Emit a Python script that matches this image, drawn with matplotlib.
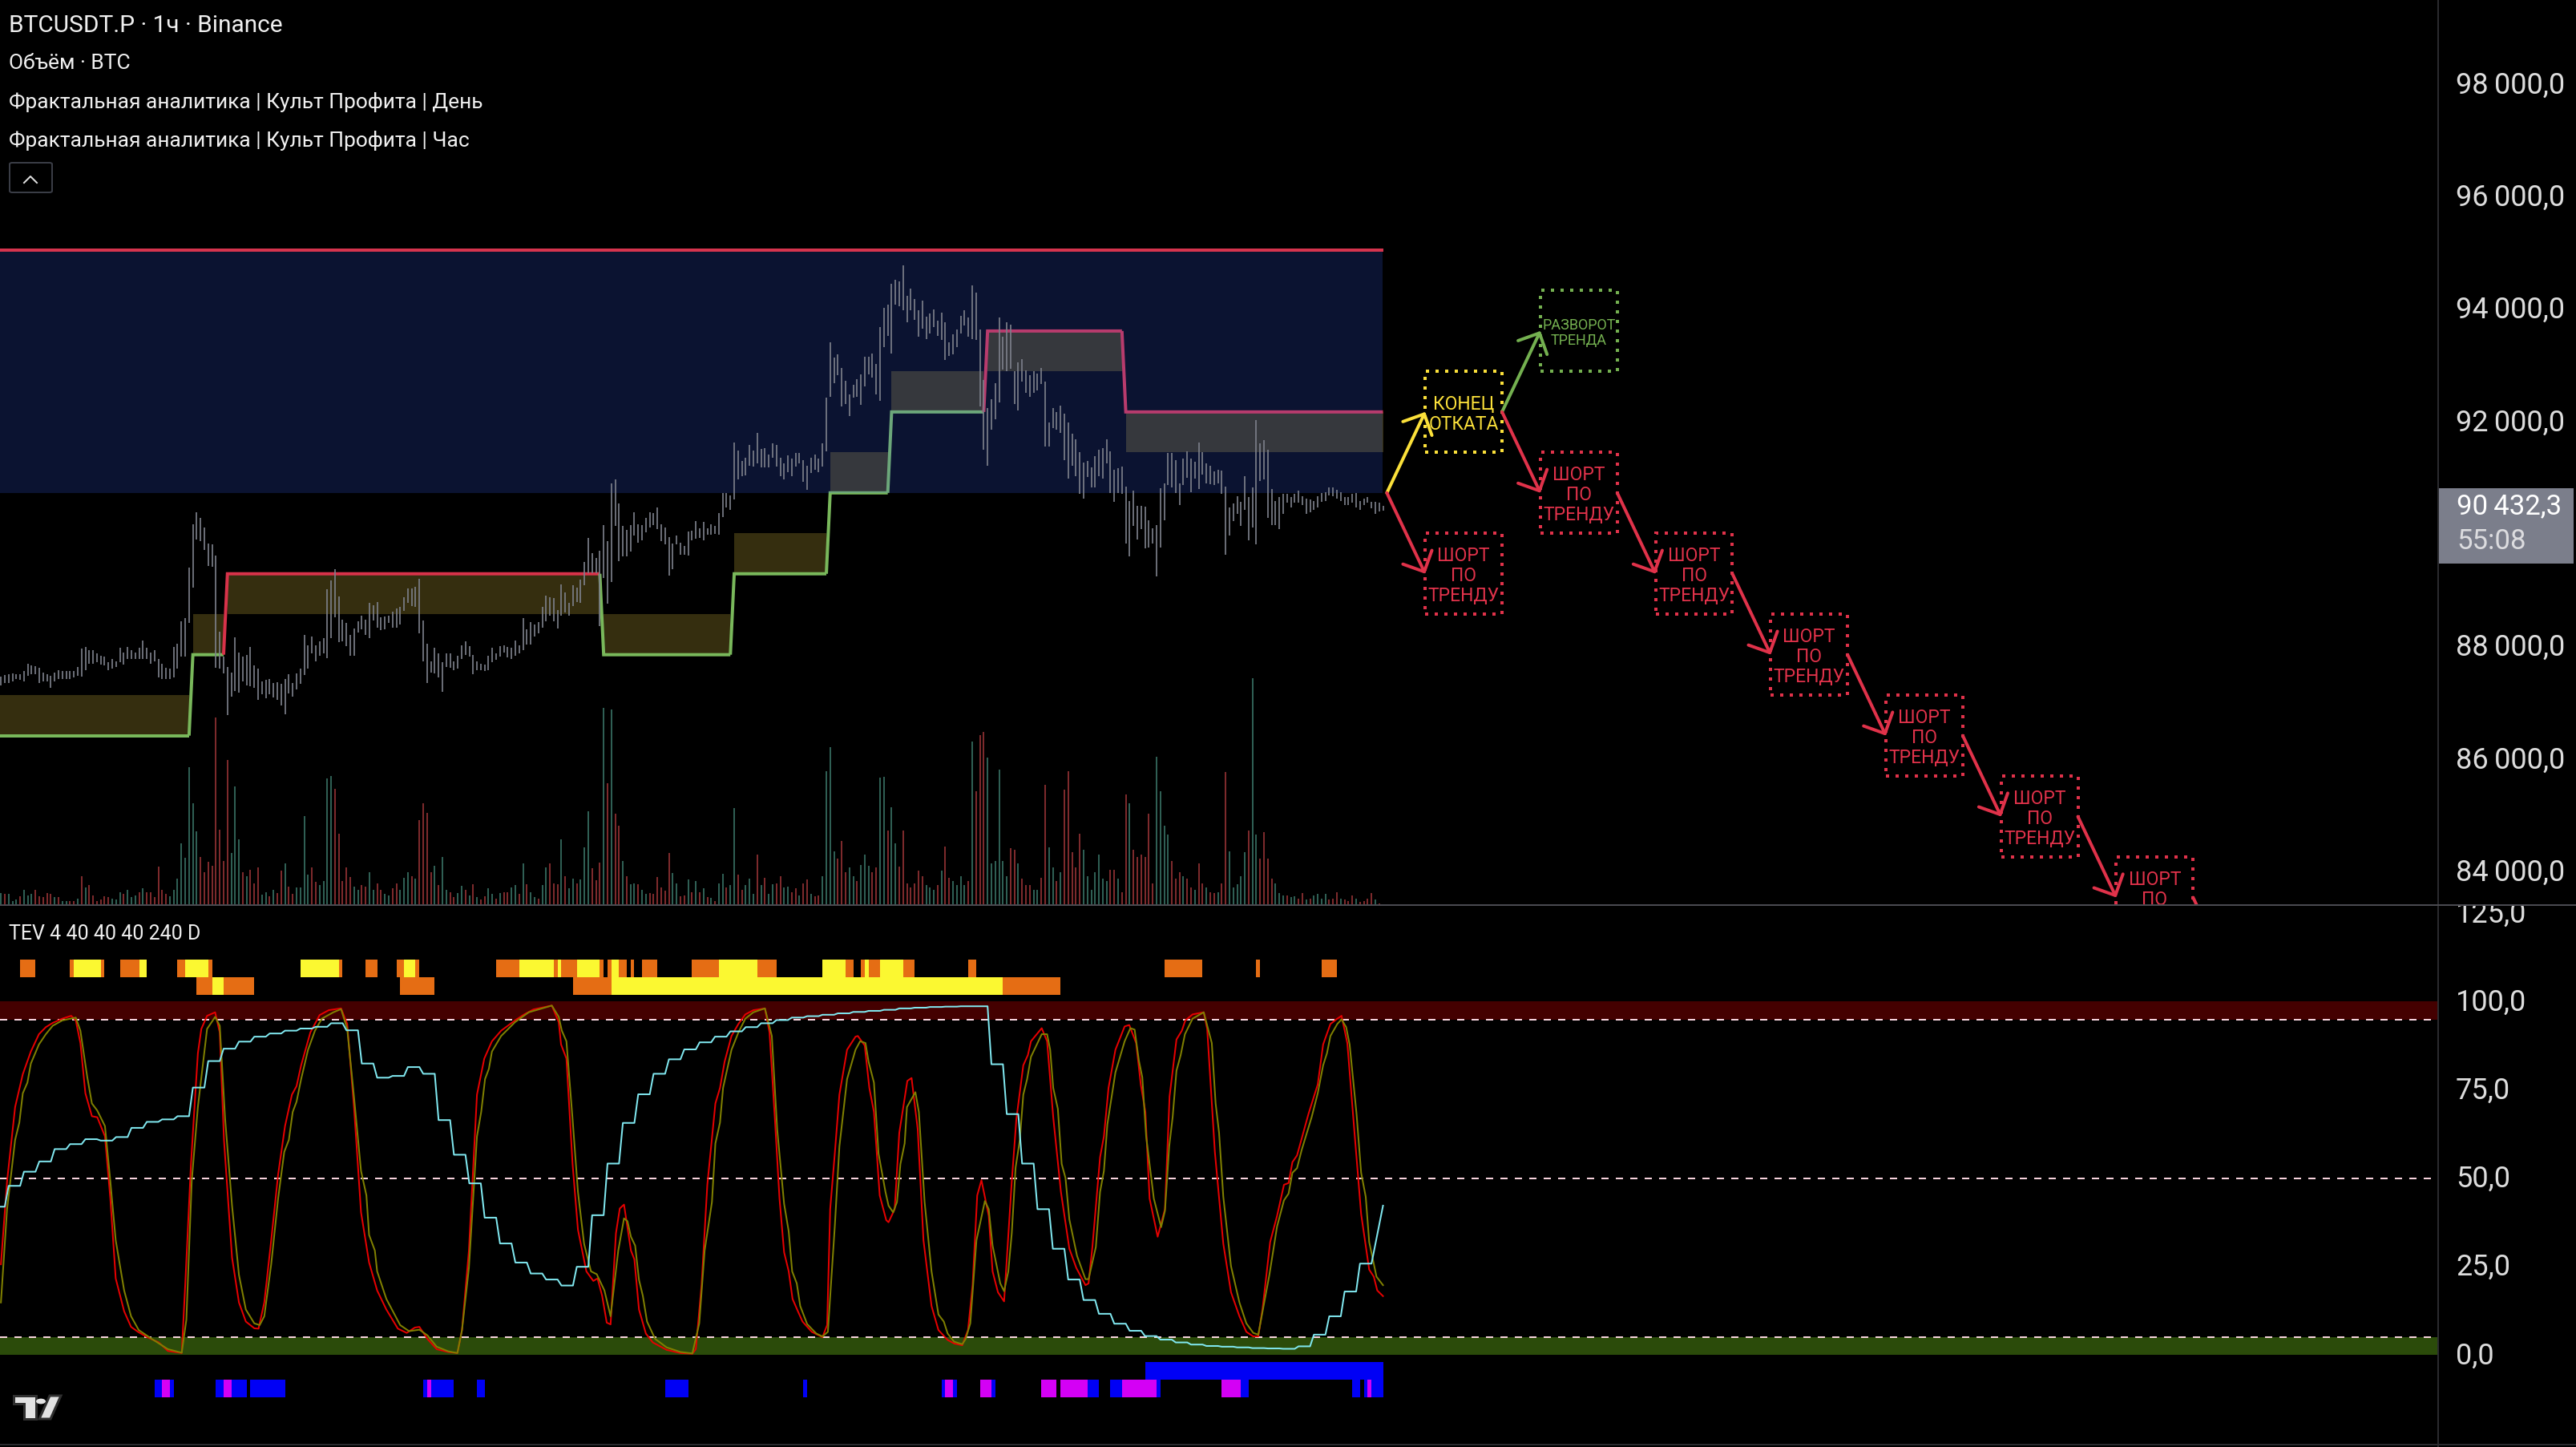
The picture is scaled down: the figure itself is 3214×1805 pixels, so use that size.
import numpy as np
import matplotlib
matplotlib.use("Agg")
import matplotlib.pyplot as plt
from matplotlib.lines import Line2D
from matplotlib.patches import Rectangle, FancyArrowPatch, FancyBboxPatch, Polygon, Circle
from matplotlib.ticker import FuncFormatter
from matplotlib.transforms import Bbox, ScaledTranslation

W, H = 3214, 1806

# hourly bars
bar_high = [87415,87439,87455,87478,87455,87455,87509,87650,87611,87603,87572,87494,87455,87431,87494,87533,87509,87509,87509,87509,
87587,87916,87939,87885,87885,87822,87791,87767,87666,87728,87689,87924,87846,87947,87885,87846,87924,88057,87924,87846,
87885,87728,87650,87572,87556,87947,88002,88393,88455,89355,90129,90340,90231,90074,89785,89761,89566,88221,87767,87587,
87494,88119,87846,87767,87806,87947,87611,87556,87337,87353,87376,87298,87314,87283,87376,87455,87298,87478,87556,88158,
87978,88135,87978,88041,88096,88964,89120,89331,88839,88432,88369,88158,88276,88393,88495,88432,88729,88690,88745,88471,
88487,88495,88573,88628,88651,88823,88979,88979,89011,89159,88416,88002,87689,87924,87822,87666,87822,87822,87689,87791,
87978,88041,87963,87806,87689,87650,87627,87783,87924,87822,87963,87978,87947,87924,88057,87978,88455,88260,88385,88338,
88385,88651,88862,88823,88807,88604,89058,88917,88729,89042,88995,89136,89449,89879,89605,89527,89660,90105,89824,90856,
90919,90496,90098,90019,90113,90340,90129,90113,90231,90340,90324,90426,90129,90074,89894,89785,89918,89800,89738,89996,
90012,90176,90059,90168,90059,90129,90098,90324,90684,90684,90637,91576,91435,91247,91310,91537,91435,91756,91466,91482,
91365,91560,91537,91310,91208,91349,91286,91388,91388,91271,91169,91310,91365,91286,91560,92373,93359,93085,93147,92905,
92670,92436,92600,92710,92796,93101,93101,93163,92968,93632,93969,94023,94399,94469,94438,94727,94180,94320,94133,93929,
94102,93812,93867,93945,93750,93883,93711,93359,93499,93593,93836,93929,93804,94375,94242,93593,92694,92186,92342,92639,
93804,93460,93711,93671,92850,92999,93061,92866,92772,92850,92811,92905,92655,91935,92186,92123,92240,92092,91935,91732,
91638,91403,91224,91247,91130,91341,91443,91482,91638,91419,91091,91122,91146,90801,90543,90723,90450,90450,90442,90191,
90059,90113,90762,90856,91388,91388,91263,90856,91286,91419,91286,91232,91576,91403,91208,91169,91067,91091,91075,90794,
90426,90489,90622,90528,90974,90606,90778,91974,91560,91623,91443,90755,90543,90606,90661,90661,90606,90661,90723,90622,
90583,90559,90543,90622,90684,90700,90778,90778,90739,90700,90606,90606,90661,90684,90543,90583,90606,90528,90528,90504,90450]

bar_low = [87259,87298,87298,87337,87376,87353,87337,87431,87455,87455,87298,87337,87337,87220,87337,87376,87376,87368,87376,87400,
87431,87415,87533,87650,87650,87666,87627,87611,87525,87556,87587,87666,87627,87728,87728,87728,87728,87728,87728,87650,
87689,87400,87376,87376,87368,87400,87556,87767,87767,88369,88995,89855,89824,89668,89386,89370,87572,87556,87478,86727,
87064,87165,87126,87337,87259,87243,87220,87009,87103,87024,87103,87040,87009,86907,86751,87118,87064,87181,87283,87439,
87556,87822,87681,87791,87830,87744,88096,88471,88025,88041,87963,87791,87791,88197,88260,88158,88104,88408,88291,88237,
88260,88369,88291,88291,88338,88588,88721,88667,88651,88182,87689,87298,87494,87478,87400,87142,87587,87572,87533,87556,
87728,87806,87767,87462,87533,87533,87517,87533,87674,87713,87767,87846,87752,87728,87791,87822,87885,87986,87986,88135,
88182,88291,88393,88495,88393,88276,88495,88549,88495,88667,88745,88729,89042,89253,89253,89253,88315,89175,88706,89097,
90090,89472,89550,89550,89644,89918,89800,89840,89980,90074,90113,90035,89824,89761,89214,89331,89761,89589,89589,89566,
89840,89863,89879,89840,89933,89941,89957,89933,90254,90426,90387,90559,90919,90974,90989,91169,91146,91208,91130,91130,
91130,91310,91153,90981,90919,91052,90974,91153,91208,90880,90739,91036,91091,91052,91146,91419,92397,92639,92772,92225,
92264,92053,92381,92397,92248,92577,92796,92733,92436,92326,93280,93476,93155,94023,94008,93929,93711,93929,93765,93460,
93609,93413,93515,93632,93476,93398,93046,93124,93140,93280,93515,93656,93460,93421,93398,92225,91443,91169,91810,91990,
92287,92874,92850,92889,92264,92146,92655,92459,92397,92459,92498,92616,91505,91505,91834,91810,91756,91263,90934,91169,
90974,90661,90583,90958,90778,90778,90974,90934,91208,90676,90520,90684,90661,89785,89550,90090,89855,90035,89699,89707,
89785,89198,89707,90191,90817,90778,90684,90465,90817,90950,90700,90934,90755,91013,90856,90841,90817,90856,90661,89589,
89918,90176,90309,90090,90387,89840,90074,89761,90895,90919,90231,90113,90113,90035,90309,90504,90426,90504,90504,90465,
90309,90332,90387,90426,90528,90543,90637,90622,90583,90543,90465,90465,90504,90426,90387,90465,90504,90403,90309,90348,90372]

# positive = up bar, negative = down bar
volume = [28,-25,25,10,12,-20,35,22,25,-35,-20,-18,-28,-25,18,-18,10,10,-10,-10,15,-65,40,-45,-22,-10,-12,-20,-18,15,12,30,-25,35,18,22,-30,38,-30,-30,
-18,-88,-35,-25,20,35,60,140,108,313,232,167,-110,-75,-98,-90,-427,-172,-100,-330,118,270,150,-75,65,-80,-50,-85,23,30,-20,35,-28,-78,95,-42,-25,40,40,203,
70,-85,-52,45,55,288,293,-265,-163,-55,-85,-63,42,35,-45,-42,75,35,-50,-35,25,22,-38,-50,35,62,75,-65,60,-193,-232,-210,-75,90,-45,110,35,-30,-18,28,
43,-35,22,-48,18,-12,-20,38,25,-15,28,-30,-30,40,45,-25,95,-48,30,18,-15,45,85,-95,-50,-48,150,-65,38,60,-50,58,132,213,-83,-57,-97,448,-278,445,
-208,-180,100,-65,48,50,-48,35,25,-28,-25,-63,-40,-32,-118,73,50,-20,-22,58,-30,55,-30,38,-18,17,-10,50,
72,-40,45,220,-70,-35,45,60,25,-115,45,-62,25,48,-50,-65,40,42,-30,-38,22,-50,-58,25,-20,-22,65,305,360,122,-105,-145,-75,85,65,-55,92,115,90,-75,
-85,290,292,-170,222,140,-88,-170,-50,-40,-50,-78,-65,45,40,35,-45,78,-133,-62,55,45,65,45,-55,372,-258,-387,-393,335,95,100,308,100,65,-130,-125,95,-60,-45,
-45,35,35,-62,-273,132,85,-55,75,-262,-305,-120,-85,-162,125,65,35,75,115,60,55,-80,-80,60,-30,-252,232,-125,-110,-115,-110,-208,-50,337,258,180,160,-100,-60,-75,
65,-60,-40,35,-95,-50,40,-30,-28,30,-50,-303,122,40,48,65,120,-170,516,160,-105,-165,-105,-60,50,28,22,-22,18,20,-15,-28,12,-15,22,25,15,25,-12,-15,-30,
15,-12,-10,-22,15,-8,-10,-15,-28,12,-3]

# fractal levels and trend segments
level_95, level_93, level_92, level_90 = 95000, 93561, 92122, 90683
level_89, level_87, level_86, level_84, level_83 = 89244, 87805, 86366, 84927, 83488
band_half = 720
seg_start = [-1, 50, 59, 157, 191, 216, 232, 257, 293]
seg_stop = [49, 58, 156, 190, 215, 231, 256, 292, 360]
seg_level = [level_86, level_87, level_89, level_87, level_89, level_90, level_92, level_93, level_92]
seg_side = ["up", "up", "down", "up", "up", "up", "up", "down", "down"]

# scenario boxes: first bar, last bar, centre price, kind
box_start = [371, 371, 401, 401, 431, 461, 491, 521, 551]
box_stop = [391, 391, 421, 421, 451, 481, 511, 541, 571]
box_level = [level_92, level_89, level_93, level_90, level_89, level_87, level_86, level_84, level_83]
box_kind = ["end", "short", "turn", "short", "short", "short", "short", "short", "short"]
box_text = {"end": "КОНЕЦ\nОТКАТА", "short": "ШОРТ\nПО\nТРЕНДУ", "turn": "РАЗВОРОТ\nТРЕНДА"}

arrow_from = [(361, level_90), (361, level_90), (391, level_92), (391, level_92), (421, level_90),
              (451, level_89), (481, level_87), (511, level_86), (541, level_84), (571, level_83)]
arrow_to = [(371, level_92), (371, level_89), (401, level_93), (401, level_90), (431, level_89),
            (461, level_87), (491, level_86), (521, level_84), (551, level_83), (581, 82049)]
arrow_kind = ["end", "short", "turn", "short", "short", "short", "short", "short", "short", "short"]

# oscillator lines
red_bars = [0,1.6,3.7,5.7,7.8,9.9,11.7,13.5,16,18.3,19.5,20.7,22,23.7,25.1,27.1,28.5,29.9,32.1,33.9,35.7,38.1,41.1,43.5,47.1,48,49.5,51.3,52.2,53.7,55.8,57,58.1,60.2,62,63.8,66,67.1,68.6,70.4,72.2,74,75.8,77,78.2,80.6,83,85.4,88.6,90.2,92,93.8,95.9,98,100.4,103.4,105.7,107.8,109,111.1,113.5,116.5,118.9,120.1,121.9,124,125.9,127.9,130.3,133.9,136.3,138.7,143.5,145.3,145.9,147.3,148.9,150.3,152.5,154.3,155.4,156.6,157.8,158.8,160.2,161.2,162.3,164.1,165,166.2,168,169.8,173.4,177,
180.1,181,182.5,184,186.1,187.3,188.5,190.3,192.1,193.9,196,199,200.2,201.6,202.8,204,205.2,206.2,207.6,208.8,211.2,214,215.2,216,217.2,218.4,220.4,222.6,223.2,225,226.2,227.4,228.9,230.6,231.2,232.8,234,236.1,237.2,238.8,240.3,242.4,244.2,246.6,248.3,250.4,251.9,253.1,254.3,255.4,257.3,258.3,259.7,261.3,263.3,264.5,266.3,267.5,268.3,271.1,272.5,274.1,276.1,278.3,280.1,282.5,283.3,284.3,286.3,287.3,288.5,290.3,292.7,293.9,295.7,296.9,298.1,299.2,301.3,303.2,304.4,306.2,307.6,308.5,310.4,313.3,314.2,316.2,318.4,320.4,322.6,324.4,326.2,327.5,328.6,330.6,332.4,334.2,335.4,336.4,337.6,340.6,343,344.4,346.3,348.1,349.2,350.7,352.5,354.3,356.4,357.6,358.5,360]
red_vals = [25.7,49.2,70.2,79.5,85.9,90.8,92.8,94,95.2,96,94.7,88.3,74.1,67.6,67.3,61.9,44.3,21.7,12.4,8,6.6,5.1,3.6,1.2,0.6,19.8,54.1,85.4,92.3,96,97,91.3,60.9,27.6,14.9,9.5,7.6,7.5,14.9,32.5,51.1,64.8,73.7,76.1,82,91.3,96.2,97.6,98.1,93.7,69.7,40.4,26.2,18.3,12.9,7.5,6.3,7.8,8,4.6,1.7,0.9,0.6,7.1,29.6,73.7,83.9,88.8,91.8,94.7,96.4,97.8,98.9,94.2,87.9,83.9,54.1,35.5,23.7,21,21.7,16.8,9.2,8.7,34.5,41.5,42.6,29.6,27.1,12.9,6.1,3.6,1.5,0.6,
0.4,1.7,19.8,48.2,71.2,75.6,83,90.3,93.7,96.4,97.6,98.1,91.3,66.8,44.3,29.1,23.7,15.9,12.4,9.5,6.6,5.1,8.5,41.3,57,73.7,86.4,90.1,90.3,87.6,75.6,68.8,45.2,38.2,37.6,41.3,62.9,77.6,78.4,63.9,32.5,13.9,7.1,4.3,3.3,2.8,7.1,19.8,45.2,49.5,39.4,23.7,17.8,15.2,49.2,66.8,82,84.9,88.8,92.5,88.8,67.3,46.2,30.1,24.7,19.8,20.3,30.6,56,61.9,75.6,86.4,93,93.4,88.3,76.6,68.8,44.3,33.5,41.3,73.2,89.3,91.8,94.7,96.4,97,92.3,57.5,31.5,17.8,11,6.6,5.3,5.3,12.9,32,39.4,48.2,48.7,54.6,56.5,68.3,76.6,87.9,93.7,95.2,96,88.3,63.9,39.9,24.2,22.2,18.3,16.7]

olive_bars = [0,1.6,3.7,4.8,5.7,6.9,7.8,9.9,11.7,13.5,16,19.5,20.7,22.5,23.7,25.1,27.1,28.5,29.9,32.1,33.9,35.9,39.3,43.5,47.1,48.3,49.7,51.3,53.7,55.8,57,58.4,60.2,62,63.8,66,67.4,68.6,70.4,72.2,73.8,75,76,77,78.2,80,81.8,83.6,86.6,88.6,90.2,92,93.8,95.2,95.9,97.4,98,100.4,104,106.3,109,111.1,113.5,116.5,118.9,120.1,121.9,124,125.1,126.1,127.1,127.9,130.3,133.9,137.5,143.5,145.3,146.1,147.3,148.9,150.3,151.9,153.7,155.2,157.2,158.8,160.8,162.3,163.2,164.1,165.2,166.2,167.2,168.3,170.4,173.4,177,
180.1,181.9,183.3,185.2,186.1,187.3,188.1,190.3,192.1,193.9,196,199,200.8,202.2,204,205.2,206.1,207.3,208.2,210,212.4,214,215.4,217.2,218.4,220.4,222.6,223.8,225.2,226,227.4,228.6,230.4,231.2,232.4,233.4,234.3,235.4,236,238.2,239.1,240.6,242.4,244.2,245.6,246.6,248.3,250.4,251.3,252.5,254.1,256.3,257.3,258.3,260.3,261.3,262.4,263.3,264.3,265.4,266.3,267.3,268.3,271.1,272.5,273.3,274.1,275.3,276.3,277.3,278.3,280.3,282.5,283.3,285.2,286.3,287.3,288.2,290.3,292.7,294.2,295.3,296.4,297.3,298.3,300.3,302.2,303.2,304.3,305.2,306.2,307.3,308.4,310.4,313.3,315.4,316.4,317.3,318.4,320.4,322.6,324.4,326.2,327.5,329.4,330.4,332.4,334.2,335.4,336.4,337.6,338.8,341.4,343,344.4,345.4,346.3,348.1,349.2,350.4,351.3,353.1,354.3,355.5,356.4,358.3,360]
olive_vals = [14.9,41.3,60.9,65.8,74.1,77.1,82.5,87.9,90.8,93.2,94.7,95.5,91.8,78.6,71.2,69.2,64.8,49.2,32.5,18.3,11,7.1,4.6,1.7,0.7,10,49.2,70.2,92.3,95.7,93.2,66.8,42.3,22.7,12.9,9,8.5,11,25.7,44.3,57.5,60.9,68.8,71.7,78.1,86.4,91.8,95.2,97,97.9,92.3,72.7,52.1,45.2,34,29.6,23.7,15.9,8.5,6.8,7.2,5.6,2.4,1.1,0.6,7.1,24.7,61.9,68.8,78.1,81,85.9,90.3,94.2,97,98.9,95.7,91.8,88.8,66.8,46.2,31.5,23.7,22.9,18.3,11,29.6,38.7,37.9,33.5,31,21.3,16.8,9.5,4.6,2.2,0.9,
0.5,9,29.6,43.3,59.9,65.8,75.6,86.4,91.3,95.2,97,98.1,90.3,63.9,42.8,35,23.7,20.3,13.9,8.8,6.1,5.3,6.6,36.4,59,78.1,86.4,88.8,88.3,83,77.1,57,46.2,42.3,40.4,43.3,54.1,59.9,70.2,74.4,68.8,43.3,23.7,11.5,9.5,6.1,3.8,3.1,4.6,9,32.5,43.6,41.3,31,20.3,18.1,23.7,34.5,53.1,60.9,73.7,78.1,84.4,90.8,90.8,86.4,75.6,69.7,54.1,50.1,38.4,28.1,21.5,21.5,30.6,46.2,52.1,65.3,80,88.8,92.5,92.1,83.4,78.6,61.9,44.3,36.2,40.8,59,67.3,80.5,84.9,90.8,95.2,97,88.3,71.2,62.9,44.8,25.2,14.9,9,6.3,5.8,16.8,22.7,36.4,43.8,45.7,51.6,52.9,58,67.3,74.1,82,85.4,90.3,93.7,95,92.8,87.9,68.3,51.6,44.8,32,22.2,19.8]

# daily line moves once every four bars
cyan_first = 42.0
cyan_steps = [47.9,51.9,54.8,58.3,59.7,61.1,60.7,61.7,64.3,66,66.7,67.6,75.7,83.2,86.7,88.7,90.1,91,91.8,92.4,92.9,93.9,91.9,82.5,78.5,79,81.5,79.6,66.5,56.7,48.6,38.9,31.6,26.2,23.1,21.4,19.7,25,39.6,54.2,65.7,73.8,79.6,83.7,86.5,
88.5,90.1,91.6,92.8,93.9,94.8,95.5,95.9,96.3,96.7,97.1,97.4,97.7,98.1,98.3,98.5,98.6,98.7,98.7,82.3,68.2,54.2,41.3,30.1,21.4,15.6,11.7,8.9,6.9,5.4,4.4,3.6,3,2.6,2.4,2.2,2,1.9,1.8,2.5,5.8,11,18,25.9]
cyan_last = 42.3

# signal strips: first bar, end bar, colour key
strip_top = [(5,9,"o"),(18,19,"o"),(19,26,"y"),(26,27,"o"),(31,36,"o"),(36,38,"y"),(46,48,"o"),(48,54,"y"),(54,55,"o"),(78,88,"y"),(88,89,"o"),(95,98,"o"),(103,105,"o"),(105,108,"y"),(108,109,"o"),(129,135,"o"),(135,144,"y"),(144,145,"o"),(145,146,"y"),(146,150,"o"),(150,156,"y"),(156,157,"o"),(158,159,"o"),(159,161,"y"),(161,163,"o"),(164,165,"o"),(167,171,"o"),(180,187,"o"),(187,197,"y"),(197,202,"o"),(214,220,"y"),(220,222,"o"),(224,225,"o"),(225,226,"y"),(226,229,"o"),(229,235,"y"),(235,238,"o"),(252,254,"o"),(303,313,"o"),(327,328,"o"),(344,348,"o")]
strip_second = [(51,55,"o"),(55,58,"y"),(58,66,"o"),(104,113,"o"),(149,159,"o"),(159,261,"y"),(261,276,"o")]
strip_blue_up = [(298,360,"b")]
strip_blue_low = [(40,42,"b"),(42,44,"m"),(44,45,"b"),(56,58,"b"),(58,60,"m"),(60,64,"b"),(65,74,"b"),(110,111,"b"),(111,112,"m"),(112,118,"b"),(124,126,"b"),(173,179,"b"),(209,210,"b"),(245,246,"b"),(246,248,"m"),(248,249,"b"),(255,258,"m"),(258,259,"b"),(271,275,"m"),(276,283,"m"),(283,286,"b"),(289,292,"b"),(292,301,"m"),(301,302,"b"),(318,323,"m"),(323,325,"b"),(352,354,"b"),(355,356,"b"),(356,357,"m"),(357,360,"b")]

price_ticks = [84000, 86000, 88000, 92000, 94000, 96000, 98000]
osc_ticks = [0, 25, 50, 75, 100, 125]
legend_lines = ["BTCUSDT.P · 1ч · Binance", "Объём · BTC",
                "Фрактальная аналитика | Культ Профита | День",
                "Фрактальная аналитика | Культ Профита | Час"]

UP_GREEN = "#79b85b"
DOWN_RED = "#d8324a"
KIND_COLOR = {"end": "#fbe03a", "short": "#e0324a", "turn": "#74b050"}
STRIP_COLOR = {"o": "#e56d14", "y": "#fbf831", "b": "#0000f5", "m": "#d400f5"}
UI_FONT = ["Roboto", "DejaVu Sans"]
AXIS_FONT = ["Roboto", "DejaVu Sans"]
AXIS_RIGHT = 3041
PX = 72 / 100  # one pixel in points


def pane(top, bottom):
    return [0, 1 - bottom / H, AXIS_RIGHT / W, (bottom - top) / H]


def fx(x):
    return x / W


def fy(y):
    return 1 - y / H


def fmt_price(v, pos=None):
    return f"{v:,.1f}".replace(",", "\u2009").replace(".", ",")


def draw_strip(ax, cells, low, high):
    for start, stop, key in cells:
        ax.fill_between([start, stop], low, high, color=STRIP_COLOR[key], lw=0, zorder=3)


fig = plt.figure(figsize=(W / 100, H / 100), dpi=100, facecolor="black")
ax = fig.add_axes(pane(0, 1130), facecolor="black")
ax_vol = fig.add_axes(pane(0, 1130), facecolor="none", sharex=ax)
ax_osc = fig.add_axes(pane(1131, 1803), facecolor="black", sharex=ax)

bars = np.arange(len(bar_high))
ax.set_xlim(-0.24, AXIS_RIGHT / 4.79 - 0.24)
ax.set_ylim(83353, 99461)

# trend bands under the blue zone
prev_stop = None
for start, stop, level, side in zip(seg_start, seg_stop, seg_level, seg_side):
    other = level + band_half if side == "up" else level - band_half
    ax.fill_between([start, stop], level, other, color="#352e0f", lw=0, zorder=1)
    col = UP_GREEN if side == "up" else DOWN_RED
    xs, ys = [start, stop], [level, level]
    if prev_stop is not None:
        xs = [prev_stop[0]] + xs
        ys = [prev_stop[1]] + ys
    ax.plot(xs, ys, color=col, lw=4 * PX, zorder=2, solid_joinstyle="miter", solid_capstyle="butt")
    prev_stop = (stop, level)

ax.fill_between([-1, 359.8], level_90, level_95, color=(60 / 255, 100 / 255, 250 / 255), alpha=0.2, lw=0, zorder=3)
ax.plot([-1, 360], [level_95, level_95], color="#d6344e", lw=4 * PX, zorder=5, solid_capstyle="butt")
ax.vlines(bars, bar_low, bar_high, color="#7c7f8a", lw=1.7 * PX, zorder=4)

for start, stop, level, kind in zip(box_start, box_stop, box_level, box_kind):
    col = KIND_COLOR[kind]
    ax.add_patch(Rectangle((start, level - band_half), stop - start, 2 * band_half, fill=False,
                           ec=col, lw=4 * PX, ls=(0, (1, 2)), zorder=6))
    size = 13 if kind == "turn" else 16.5
    ax.text((start + stop) / 2, level - 25, box_text[kind], color=col, ha="center", va="center", ma="center",
            fontsize=size, family=UI_FONT, linespacing=1.12, clip_on=True, zorder=7)

for p0, p1, kind in zip(arrow_from, arrow_to, arrow_kind):
    ax.add_patch(FancyArrowPatch(p0, p1, arrowstyle="->,head_length=1,head_width=1", mutation_scale=20 * PX,
                                 color=KIND_COLOR[kind], lw=4 * PX, shrinkA=0, shrinkB=0, zorder=8))

ax.yaxis.tick_right()
ax.set_yticks(price_ticks)
ax.yaxis.set_major_formatter(FuncFormatter(fmt_price))
ax.tick_params(axis="y", length=0, pad=23 * PX, labelsize=26, labelcolor="#dcdcdc")
ax.tick_params(axis="x", bottom=False, labelbottom=False)
for lab in ax.get_yticklabels():
    lab.set_family(AXIS_FONT)

# volume shares the price pane
vol = np.array(volume)
ax_vol.set_ylim(0, 2060)
ax_vol.vlines(np.arange(len(vol))[vol > 0], 2, vol[vol > 0], color="#2f5f54", lw=2 * PX)
ax_vol.vlines(np.arange(len(vol))[vol < 0], 2, -vol[vol < 0], color="#7d2a2c", lw=2 * PX)
ax_vol.axis("off")

# oscillator pane
ax_osc.set_ylim(-25.3, 127.1)
ax_osc.axhspan(95, 100, color="#440000", lw=0, zorder=1)
ax_osc.axhspan(0, 5, color="#2b4b0a", lw=0, zorder=1)
for v in (95, 50, 5):
    ax_osc.axhline(v, color="#f6d2dc", lw=2 * PX, ls=(0, (4.5, 4.5)), zorder=2)

cyan_x, cyan_y = [-0.2, 1.0], [cyan_first, cyan_first]
for k, val in enumerate(cyan_steps):
    cyan_x += [2 + 4 * k, 5 + 4 * k]
    cyan_y += [val, val]
cyan_x.append(360)
cyan_y.append(cyan_last)
ax_osc.plot(red_bars, red_vals, color="#e60000", lw=2 * PX, zorder=4)
ax_osc.plot(olive_bars, olive_vals, color="#808000", lw=2 * PX, zorder=5)
ax_osc.plot(cyan_x, cyan_y, color="#80e8f0", lw=2 * PX, zorder=6)

draw_strip(ax_osc, strip_top, 107, 112)
draw_strip(ax_osc, strip_second, 102, 107)
draw_strip(ax_osc, strip_blue_up, -7, -2)
draw_strip(ax_osc, strip_blue_low, -12, -7)

ax_osc.yaxis.tick_right()
ax_osc.set_yticks(osc_ticks)
ax_osc.yaxis.set_major_formatter(FuncFormatter(fmt_price))
ax_osc.tick_params(axis="y", length=0, pad=23 * PX, labelsize=26, labelcolor="#dcdcdc")
ax_osc.tick_params(axis="x", bottom=False, labelbottom=False)
clip_box = Bbox([[AXIS_RIGHT, 0], [W, H - 1131]])
lift = ScaledTranslation(0, 4 / 100, fig.dpi_scale_trans)
for lab in ax_osc.get_yticklabels():
    lab.set_family(AXIS_FONT)
    lab.set_transform(lab.get_transform() + lift)
    lab.set_clip_on(True)
    lab.set_clip_box(clip_box)

for a in (ax, ax_osc):
    for side in a.spines:
        a.spines[side].set_visible(False)

# window lines
fig.add_artist(Line2D([fx(AXIS_RIGHT + 1)] * 2, [0, 1], color="#2a2a2e", lw=2 * PX))
fig.add_artist(Line2D([0, 1], [fy(1130)] * 2, color="#4a4a50", lw=2 * PX))
fig.add_artist(Line2D([0, 1], [fy(1803)] * 2, color="#2a2a2e", lw=2 * PX))

# legend block
legend_y = [32, 79, 128, 176]
legend_size = [21.5, 19, 19, 19]
for line, y, size in zip(legend_lines, legend_y, legend_size):
    fig.text(fx(11), fy(y), line, color="#f0f0f0", fontsize=size, family=UI_FONT, va="center")
fig.text(fx(11), fy(1165), "TEV 4 40 40 40 240 D", color="#f0f0f0", fontsize=18, family=UI_FONT, va="center")

fig.add_artist(FancyBboxPatch((fx(12), fy(241)), fx(53), 37 / H, boxstyle="round,pad=0,rounding_size=0.001",
                              transform=fig.transFigure, fc="none", ec="#3a3d46", lw=2 * PX))
fig.add_artist(Line2D([fx(30), fx(38), fx(46)], [fy(229), fy(221), fy(229)], color="#e0e0e0", lw=2 * PX))

# last price tag
fig.add_artist(Rectangle((fx(3043), fy(704)), fx(168), 94 / H, transform=fig.transFigure, fc="#7b7e8b", ec="none"))
fig.text(fx(3065), fy(632), fmt_price(90432.3), color="white", fontsize=25, family=AXIS_FONT, va="center")
fig.text(fx(3065), fy(676), "55:08", color="#dcdcdf", fontsize=25, family=AXIS_FONT, va="center")

# logo
logo_t = [(17, 1742), (45, 1742), (45, 1771), (30, 1771), (30, 1752), (17, 1752)]
logo_s = [(62, 1742), (76, 1742), (63, 1771), (49, 1771)]
for shape in (logo_t, logo_s):
    fig.add_artist(Polygon([(fx(x), fy(y)) for x, y in shape], transform=fig.transFigure,
                           fc="#e2e2e2", ec="#2f2f2f", lw=3 * PX))
fig.add_artist(Circle((fx(51), fy(1749)), 6 / W, transform=fig.transFigure, fc="#e2e2e2", ec="none"))

fig.savefig("out.png", dpi=100, facecolor="black")
